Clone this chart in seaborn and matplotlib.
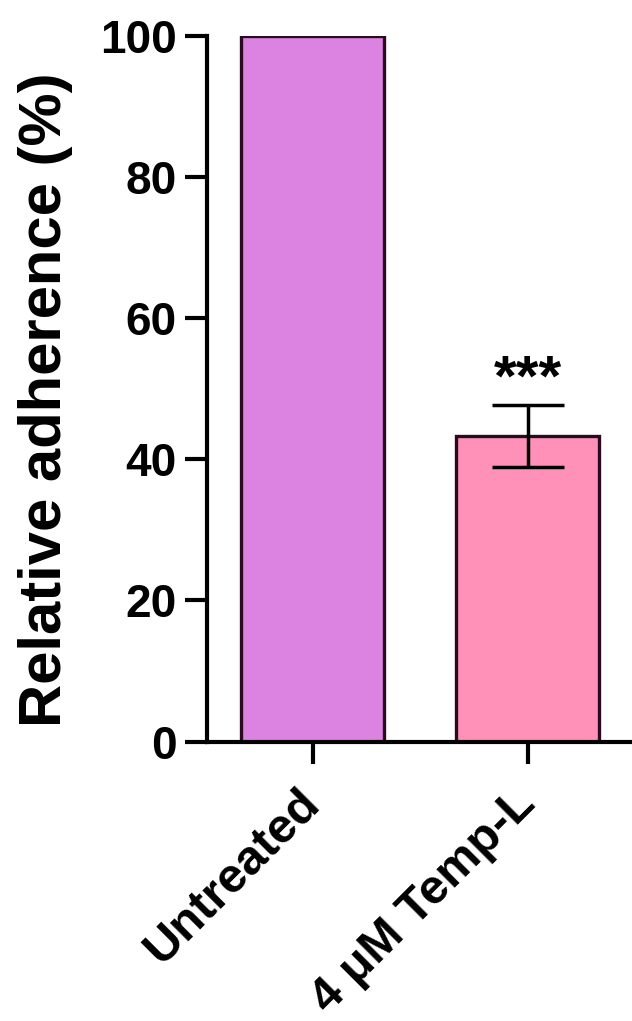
import matplotlib
matplotlib.use("Agg")
import matplotlib.pyplot as plt
import seaborn as sns
import pandas as pd

categories = ["Untreated", "4 μM Temp-L"]
values = [100.0, 43.3]
errors = [0.0, 4.4]
colors = ["#DC82E0", "#FF91B8"]
significance = ["", "***"]
yticks = [0, 20, 40, 60, 80, 100]

sns.set_theme(style="ticks")
plt.rcParams["font.family"] = ["Liberation Sans", "DejaVu Sans"]
plt.rcParams["font.weight"] = "bold"
plt.rcParams["text.color"] = "black"
plt.rcParams["axes.labelcolor"] = "black"
plt.rcParams["xtick.color"] = "black"
plt.rcParams["ytick.color"] = "black"

df = pd.DataFrame({"group": categories, "value": values})

fig = plt.figure(figsize=(6.32, 10.21), dpi=100)
ax = fig.add_axes([0.3275, 0.2737, 0.6725, 0.691])

sns.barplot(data=df, x="group", y="value", hue="group", palette=colors,
            legend=False, width=0.665, edgecolor="#2a0a20", linewidth=2.4,
            saturation=1, ax=ax, errorbar=None)

for i, (v, e) in enumerate(zip(values, errors)):
    if e > 0:
        ax.errorbar(i, v, yerr=e, fmt="none", ecolor="black",
                    elinewidth=2.5, capsize=26, capthick=2.5, zorder=5)
    if significance[i]:
        ax.text(i, v + e + 1.3, significance[i], ha="center", va="baseline",
                fontsize=42, fontweight="bold", color="black")

ax.set_xlim(-0.493, 1.484)
ax.set_ylim(0, 100)
ax.set_yticks(yticks)
ax.set_yticklabels([str(t) for t in yticks], fontsize=33, fontweight="bold")
ax.set_xticks(range(len(categories)))
ax.set_xticklabels(categories, rotation=45, ha="right", va="center",
                   rotation_mode="anchor", fontsize=35, fontweight="bold")
ax.set_xlabel("")
ax.set_ylabel("Relative adherence (%)", fontsize=43, fontweight="bold", labelpad=19)
ax.yaxis.label.set_y(0.485)

for side in ["top", "right"]:
    ax.spines[side].set_visible(False)
for side in ["left", "bottom"]:
    ax.spines[side].set_linewidth(3)
    ax.spines[side].set_color("black")
ax.tick_params(axis="both", length=16, width=3, color="black")
ax.tick_params(axis="y", pad=6)
ax.tick_params(axis="x", pad=24)

fig.savefig("out.png", dpi=100)
